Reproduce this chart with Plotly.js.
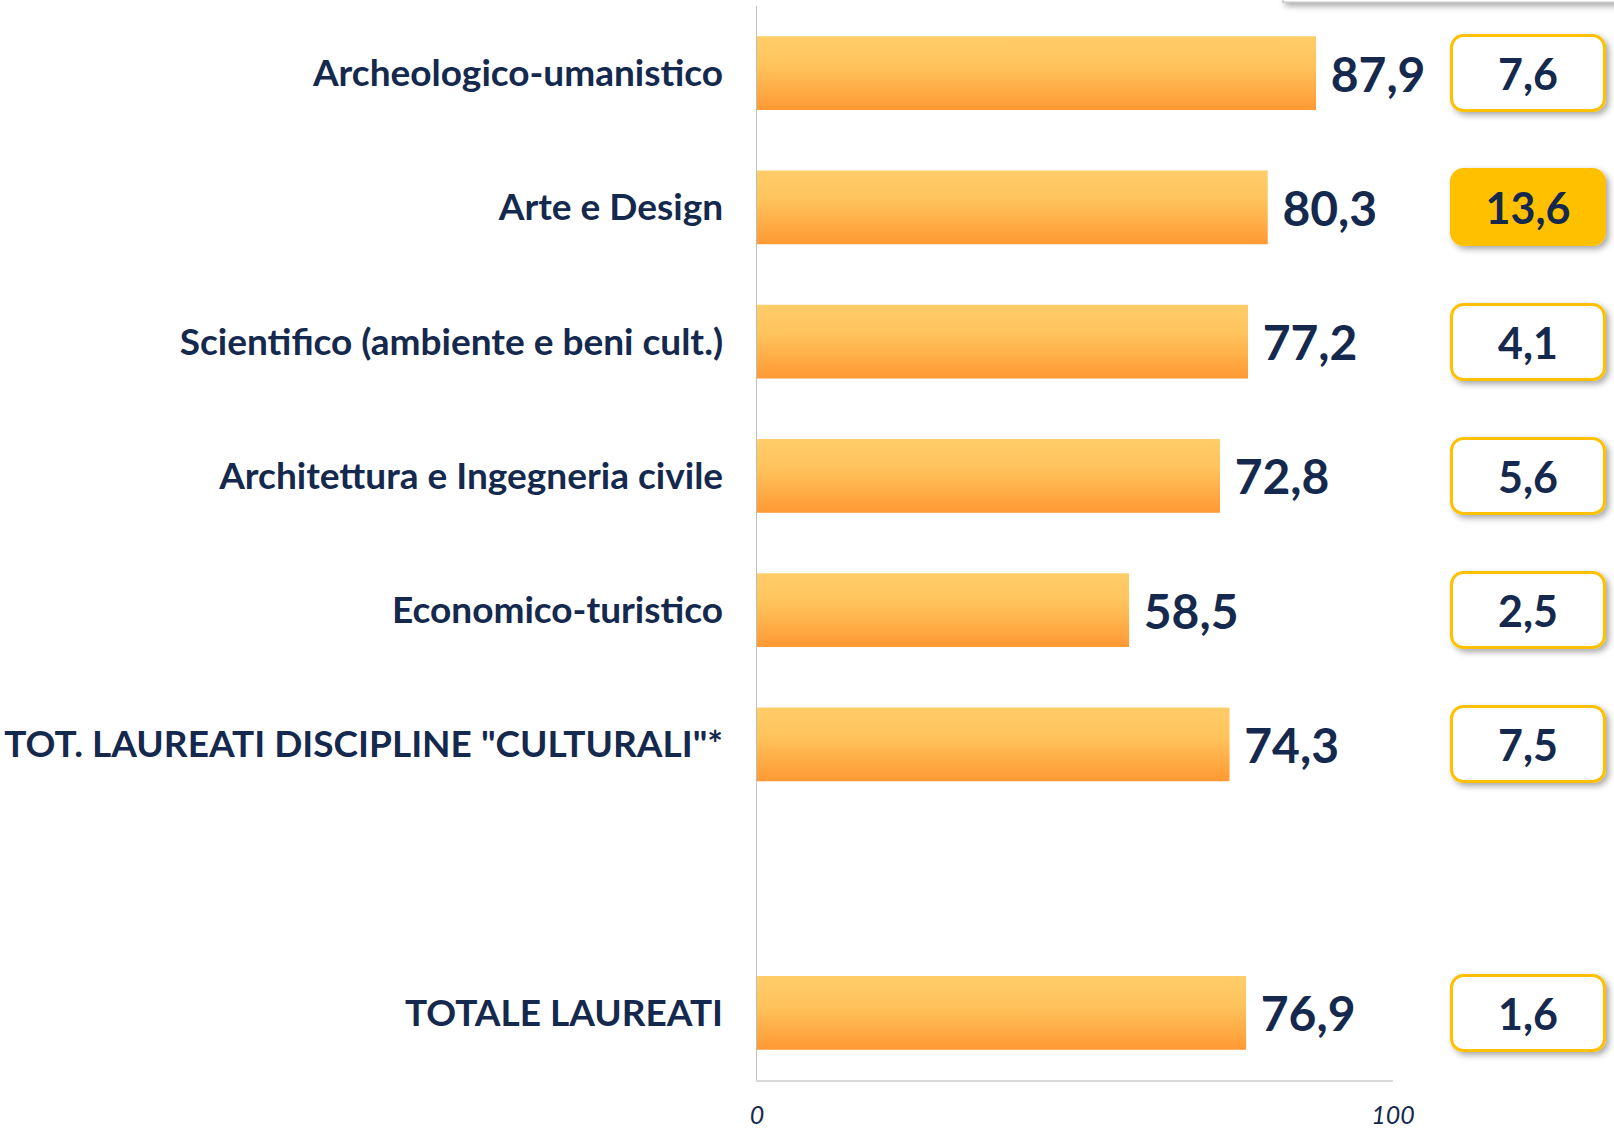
<!DOCTYPE html>
<html>
<head>
<meta charset="utf-8">
<script src="https://cdn.plot.ly/plotly-3.0.1.min.js"></script>
<style>
  html, body { margin: 0; padding: 0; background: #ffffff; }
  #chart { width: 1614px; height: 1131px; }
</style>
</head>
<body>
<div id="chart"></div>
<script>
// ---- data ----
const categories = [
  'Archeologico-umanistico',
  'Arte e Design',
  'Scientifico (ambiente e beni cult.)',
  'Architettura e Ingegneria civile',
  'Economico-turistico',
  'TOT. LAUREATI DISCIPLINE "CULTURALI"*',
  ' ',
  'TOTALE LAUREATI'
];
const barValues = [87.9, 80.3, 77.2, 72.8, 58.5, 74.3, null, 76.9];
const boxValues = [7.6, 13.6, 4.1, 5.6, 2.5, 7.5, null, 1.6];
const boxHighlight = [false, true, false, false, false, false, false, false];
const xTickValues = [0, 100];

// ---- style ----
const NAVY = '#14294D';
const GOLD = '#FFC000';
const FONT = 'Lato, "Open Sans", sans-serif';

const fmt = v => v.toFixed(1).replace('.', ',');

const trace = {
  type: 'bar',
  orientation: 'h',
  y: categories,
  x: barValues,
  width: 0.55,
  marker: { color: '#FFB347', line: { width: 0 } },
  texttemplate: '\u00a0%{x:.1f}',
  textposition: 'outside',
  constraintext: 'none',
  cliponaxis: false,
  textfont: { family: FONT, size: 48, color: NAVY, weight: 700 },
  hoverinfo: 'skip'
};

const annotations = [];
categories.forEach((c, i) => {
  if (boxValues[i] === null) return;
  annotations.push({
    xref: 'paper', yref: 'y',
    x: 1.212, y: c,
    xanchor: 'center', yanchor: 'middle',
    text: fmt(boxValues[i]),
    showarrow: false,
    width: 150, height: 72,
    align: 'center', valign: 'middle',
    bordercolor: GOLD, borderwidth: 3, borderpad: 0,
    bgcolor: boxHighlight[i] ? GOLD : '#ffffff',
    font: { family: FONT, size: 43, color: NAVY, weight: 700 }
  });
});

const layout = {
  width: 1614, height: 1131,
  margin: { l: 757, r: 221, t: 6, b: 51, pad: 0 },
  paper_bgcolor: '#ffffff', plot_bgcolor: '#ffffff',
  separators: ', ',
  showlegend: false,
  bargap: 0.45,
  xaxis: {
    range: [0, 100],
    tickvals: xTickValues,
    showgrid: false, zeroline: false,
    showline: true, linecolor: '#D9D9D9', linewidth: 2,
    ticks: '',
    ticklabelstandoff: 12,
    tickfont: { family: FONT, size: 25, color: NAVY, style: 'italic' },
    fixedrange: true
  },
  yaxis: {
    type: 'category',
    categoryorder: 'array',
    categoryarray: categories,
    autorange: 'reversed',
    showgrid: false, zeroline: false,
    showline: true, linecolor: '#BFBFBF', linewidth: 1.5,
    ticks: '',
    ticklabelstandoff: 25,
    tickfont: { family: FONT, size: 37, color: NAVY, weight: 700 },
    fixedrange: true
  },
  annotations: annotations,
  shapes: [{
    type: 'rect', xref: 'paper', yref: 'paper', layer: 'above',
    x0: 0.827, x1: 1.36, y0: 1.0035, y1: 1.04,
    fillcolor: '#ffffff', line: { color: '#C9C9C9', width: 1.5 }
  }]
};

Plotly.newPlot('chart', [trace], layout, { staticPlot: true, displayModeBar: false }).then(gd => {
  const NS = 'http://www.w3.org/2000/svg';
  const svg = gd.querySelector('.main-svg');
  let defs = svg.querySelector('defs');
  if (!defs) { defs = document.createElementNS(NS, 'defs'); svg.insertBefore(defs, svg.firstChild); }

  const grad = document.createElementNS(NS, 'linearGradient');
  grad.setAttribute('id', 'barGrad');
  grad.setAttribute('x1', '0'); grad.setAttribute('y1', '0');
  grad.setAttribute('x2', '0'); grad.setAttribute('y2', '1');
  [['0', '#FFCD69'], ['0.4', '#FFC35C'], ['1', '#FF9933']].forEach(([o, c]) => {
    const s = document.createElementNS(NS, 'stop');
    s.setAttribute('offset', o); s.setAttribute('stop-color', c);
    grad.appendChild(s);
  });
  defs.appendChild(grad);

  const filt = document.createElementNS(NS, 'filter');
  filt.setAttribute('id', 'boxShadow');
  filt.setAttribute('x', '-20%'); filt.setAttribute('y', '-30%');
  filt.setAttribute('width', '150%'); filt.setAttribute('height', '170%');
  const ds = document.createElementNS(NS, 'feDropShadow');
  ds.setAttribute('dx', '3'); ds.setAttribute('dy', '3');
  ds.setAttribute('stdDeviation', '3');
  ds.setAttribute('flood-color', '#000000'); ds.setAttribute('flood-opacity', '0.35');
  filt.appendChild(ds);
  defs.appendChild(filt);

  gd.querySelectorAll('.barlayer .point path').forEach(p => {
    p.style.fill = 'url(#barGrad)';
  });
  gd.querySelectorAll('.annotation rect.bg').forEach(r => {
    r.setAttribute('rx', '12'); r.setAttribute('ry', '12');
    r.style.filter = 'url(#boxShadow)';
  });
  gd.querySelectorAll('.shapelayer path').forEach(p => {
    p.style.filter = 'url(#boxShadow)';
  });
});
</script>
</body>
</html>
